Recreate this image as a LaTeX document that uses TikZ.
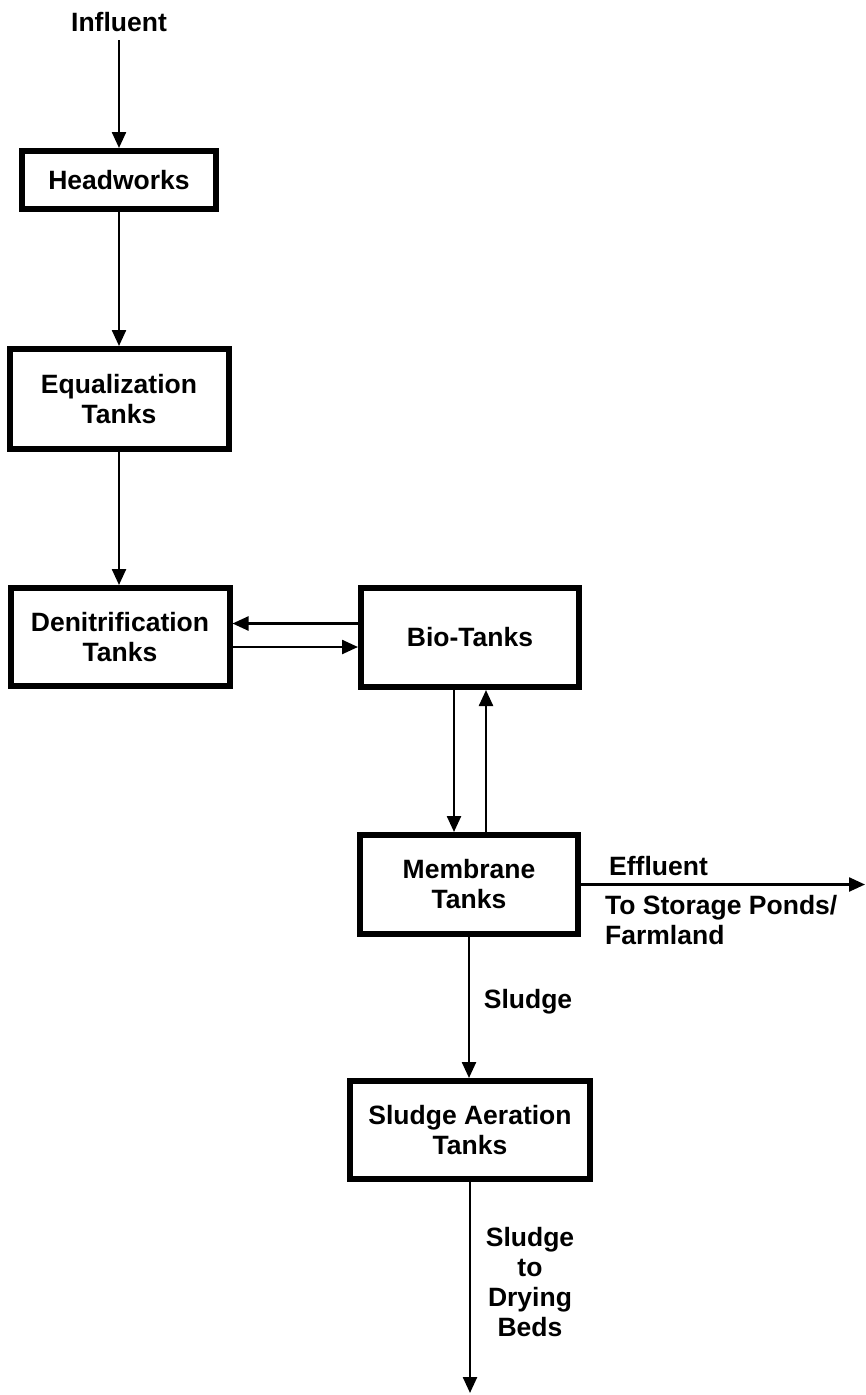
\documentclass[tikz,border=0pt]{standalone}
\usepackage{fontspec}
\setmainfont{Liberation Sans}
\usetikzlibrary{arrows.meta}
\begin{document}
\begin{tikzpicture}[x=1pt,y=-1pt,
  box/.style={draw, line width=6pt, align=center, inner sep=0pt, font=\fontsize{26.5}{30}\selectfont\bfseries},
  lbl/.style={font=\fontsize{26.5}{30}\selectfont\bfseries, inner sep=0pt},
  arr/.style={line width=2.4pt, -{Triangle[length=16pt,width=14pt]}}]
\useasboundingbox (0,0) rectangle (865,1395);
\node[lbl] (infl) at (119,22) {Influent};
\coordinate (inflend) at (119,40);
\node[box, minimum width=194pt, minimum height=58pt] (head) at (119,180) {Headworks};
\node[box, minimum width=219pt, minimum height=100pt] (equal) at (119,399) {Equalization\\Tanks};
\node[box, minimum width=219pt, minimum height=98pt] (den) at (120,637) {Denitrification\\Tanks};
\node[box, minimum width=218pt, minimum height=99pt] (bio) at (470,637.5) {Bio-Tanks};
\node[box, minimum width=218pt, minimum height=99pt] (memb) at (469,884.5) {Membrane\\Tanks};
\node[box, minimum width=240pt, minimum height=98pt] (saer) at (470,1130) {Sludge Aeration\\Tanks};
\coordinate (effend) at (865,884.5);
\coordinate (dryend) at (470,1393);
\node[lbl, anchor=west] (efflbl) at (609,866) {Effluent};
\node[lbl, anchor=west, align=left] (storlbl) at (605,920) {To Storage Ponds/\\Farmland};
\node[lbl] (sludgelbl) at (528,1002) {Sludge};
\node[lbl, align=center] (drylbl) at (530,1282) {Sludge\\to\\Drying\\Beds};
\draw[arr] (inflend) -- (head.north);
\draw[arr] (head.south) -- (equal.north);
\draw[arr] (equal.south) -- (equal.south |- den.north);
\draw[arr] ([yshift=14pt]bio.west) -- ([yshift=14pt]bio.west -| den.east);
\draw[arr] ([yshift=-10pt]den.east) -- ([yshift=-10pt]den.east -| bio.west);
\draw[arr] ([xshift=-16pt]bio.south) -- ([xshift=-16pt]bio.south |- memb.north);
\draw[arr] ([xshift=16pt]bio.south |- memb.north) -- ([xshift=16pt]bio.south);
\draw[arr] (memb.east) -- (effend);
\draw[arr] (memb.south) -- (memb.south |- saer.north);
\draw[arr] (saer.south) -- (dryend);
\end{tikzpicture}
\end{document}
